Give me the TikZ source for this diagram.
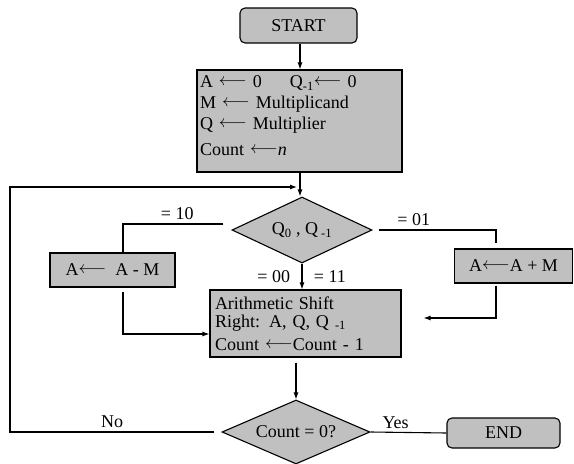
\documentclass[tikz,border=0pt]{standalone}
\usepackage{fontspec}
\setmainfont{Liberation Serif}
\usetikzlibrary{shapes.geometric, arrows.meta}
\definecolor{boxgray}{RGB}{192,192,192}
\tikzset{
  term/.style={rectangle, rounded corners=5pt, draw=black, fill=boxgray},
  box/.style={rectangle, draw=black, fill=boxgray, inner sep=0pt},
  decision/.style={diamond, draw=black, fill=boxgray, inner sep=0pt},
}
\newcommand{\larrow}{\raisebox{2pt}{$\longleftarrow$}}

\begin{document}
\begin{tikzpicture}[x=1pt, y=-1pt, line width=1.1pt, >={Latex[length=7pt,width=5pt]}, font=\fontsize{18}{21}\selectfont]
\useasboundingbox (0,0) rectangle (574,464);
\node[term, minimum width=117pt, minimum height=35pt] (1) at (298.5,25.5) {START};
\node[box, minimum width=205pt, minimum height=102pt, text width=199pt, align=left] (2) at (299.5,121) {A \larrow\ 0\hspace{28pt}Q\textsubscript{-1}\larrow\ 0\\ M \larrow\ Multiplicand\\ Q \larrow\ Multiplier\\[5pt] Count \larrow\textit{n}\rule[-11pt]{0pt}{11pt}};
\node[decision, aspect=2.12, minimum width=140pt, minimum height=66pt] (3) at (302,230) {Q\textsubscript{0} , Q\textsubscript{ -1}};
\node[box, minimum width=125pt, minimum height=34pt] (4) at (112.5,270) {A\larrow\ \ A - M};
\node[box, minimum width=191pt, minimum height=67pt, text width=181pt, align=left] (5) at (305.5,323.5) {Arithmetic Shift\\[-3pt] Right: A, Q, Q\textsubscript{ -1}\\[2pt] Count \larrow Count - 1};
\node[box, minimum width=118pt, minimum height=34pt] (6) at (513.5,266) {A\larrow A + M};
\node[decision, aspect=2.3, minimum width=148pt, minimum height=64pt] (7) at (296,432) {Count = 0?};
\node[term, minimum width=113pt, minimum height=30pt] (8) at (503.5,433) {END};
\coordinate (m) at (300,187);
\coordinate (b) at (10,432);

\draw[->] (1.south -| m) -- (m |- 2.north);
\draw[->] (2.south -| m) -- (m |- 3.north);
\draw[->] ([xshift=-7pt]7.west) -- node[above]{No} (b) |- ([xshift=-3pt]m);
\draw ([xshift=-8pt, yshift=6pt]3.west) -| node[above, pos=0.23]{= 10} ([xshift=10.5pt]4.north);
\draw[->, shorten <=4pt] ([xshift=10.5pt]4.south) |- ([yshift=-10.5pt]5.west);
\draw[shorten >=5pt] ([xshift=6pt]3.east) -| node[above, pos=0.15]{= 01} ([xshift=-17.5pt]6.north);
\draw[->, shorten <=2pt] ([xshift=-17.5pt]6.south) |- ([xshift=22pt, yshift=5.5pt]5.east);
\draw[->] (3.south) -- node[left=8pt]{= 00} node[right=8pt]{= 11} (3.south |- 5.north);
\draw[->, shorten <=5pt] (5.south -| 7.north) -- (7.north);
\draw (7.east) -- node[above, pos=0.33]{Yes} (8.west);
\end{tikzpicture}
\end{document}
